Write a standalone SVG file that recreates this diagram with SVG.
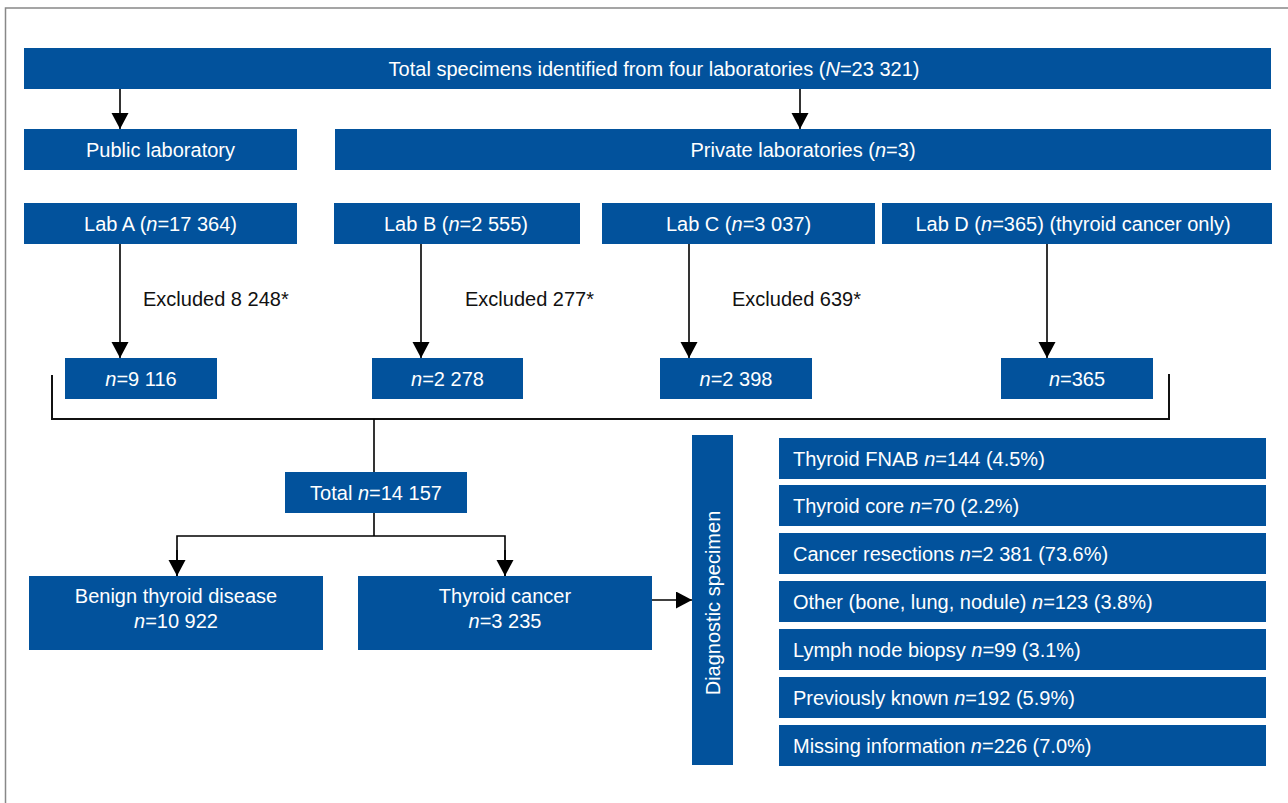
<svg xmlns="http://www.w3.org/2000/svg" width="1288" height="803" viewBox="0 0 1288 803">
<style>
.box{fill:#02529C}
.t{font-family:"Liberation Sans",Arial,sans-serif;font-size:20px;fill:#fff}
.k{font-family:"Liberation Sans",Arial,sans-serif;font-size:20px;fill:#111}
.c{text-anchor:middle}
.i{font-style:italic}
.ln{stroke:#000;stroke-width:1.6;fill:none}
</style>
<defs>
<marker id="ah" markerUnits="userSpaceOnUse" markerWidth="18" markerHeight="18" viewBox="0 0 18 18" refX="16" refY="8.5" orient="auto">
<path d="M0,0 L16,8.5 L0,17 Z" fill="#000"/>
</marker>
</defs>
<rect x="0" y="0" width="1288" height="803" fill="#fff"/>
<path d="M5.5,803 V8 H1288" stroke="#888" stroke-width="1.5" fill="none"/>

<g id="connectors">
<line class="ln" x1="120" y1="89" x2="120" y2="129" marker-end="url(#ah)"/>
<line class="ln" x1="800" y1="89" x2="800" y2="129" marker-end="url(#ah)"/>
<line class="ln" x1="120" y1="244" x2="120" y2="358" marker-end="url(#ah)"/>
<line class="ln" x1="421" y1="244" x2="421" y2="358" marker-end="url(#ah)"/>
<line class="ln" x1="689" y1="244" x2="689" y2="358" marker-end="url(#ah)"/>
<line class="ln" x1="1047" y1="244" x2="1047" y2="358" marker-end="url(#ah)"/>
<path d="M52,375 V419 H1169 V374" stroke="#111" stroke-width="2" fill="none"/>
<line class="ln" x1="374" y1="419" x2="374" y2="472"/>
<line class="ln" x1="374" y1="513" x2="374" y2="536"/>
<path class="ln" d="M177,576 V536 H505 V576"/>
<line class="ln" x1="177" y1="550" x2="177" y2="576" marker-end="url(#ah)"/>
<line class="ln" x1="505" y1="550" x2="505" y2="576" marker-end="url(#ah)"/>
<line class="ln" x1="652" y1="600" x2="692" y2="600" marker-end="url(#ah)"/>
<text class="k" x="143" y="306">Excluded 8 248*</text>
<text class="k" x="465" y="306">Excluded 277*</text>
<text class="k" x="732" y="306">Excluded 639*</text>
</g>

<g id="total">
<rect class="box" x="24" y="48" width="1247" height="41"/>
<text class="t c" x="654" y="75.5">Total specimens identified from four laboratories (<tspan class="i">N</tspan>=23 321)</text>
</g>
<g id="public">
<rect class="box" x="24" y="129" width="273" height="41"/>
<text class="t c" x="160.5" y="156.5">Public laboratory</text>
</g>
<g id="private">
<rect class="box" x="335" y="129" width="936" height="41"/>
<text class="t c" x="803" y="156.5">Private laboratories (<tspan class="i">n</tspan>=3)</text>
</g>
<g id="labA">
<rect class="box" x="24" y="203" width="273" height="41"/>
<text class="t c" x="160.5" y="230.5">Lab A (<tspan class="i">n</tspan>=17 364)</text>
</g>
<g id="labB">
<rect class="box" x="334" y="203" width="246" height="41"/>
<text class="t c" x="456" y="230.5">Lab B (<tspan class="i">n</tspan>=2 555)</text>
</g>
<g id="labC">
<rect class="box" x="602" y="203" width="273" height="41"/>
<text class="t c" x="738.5" y="230.5">Lab C (<tspan class="i">n</tspan>=3 037)</text>
</g>
<g id="labD">
<rect class="box" x="882" y="203" width="390" height="41"/>
<text class="t c" x="1073" y="230.5">Lab D (<tspan class="i">n</tspan>=365) (thyroid cancer only)</text>
</g>
<g id="nA">
<rect class="box" x="65" y="358" width="152" height="41"/>
<text class="t c" x="141" y="385.5"><tspan class="i">n</tspan>=9 116</text>
</g>
<g id="nB">
<rect class="box" x="372" y="358" width="151" height="41"/>
<text class="t c" x="447.5" y="385.5"><tspan class="i">n</tspan>=2 278</text>
</g>
<g id="nC">
<rect class="box" x="660" y="358" width="152" height="41"/>
<text class="t c" x="736" y="385.5"><tspan class="i">n</tspan>=2 398</text>
</g>
<g id="nD">
<rect class="box" x="1001" y="358" width="152" height="41"/>
<text class="t c" x="1077" y="385.5"><tspan class="i">n</tspan>=365</text>
</g>
<g id="totalN">
<rect class="box" x="285" y="472" width="182" height="41"/>
<text class="t c" x="376" y="499.5">Total <tspan class="i">n</tspan>=14 157</text>
</g>
<g id="benign">
<rect class="box" x="29" y="576" width="294" height="74"/>
<text class="t c" x="176" y="603">Benign thyroid disease</text>
<text class="t c" x="176" y="628"><tspan class="i">n</tspan>=10 922</text>
</g>
<g id="cancer">
<rect class="box" x="358" y="576" width="294" height="74"/>
<text class="t c" x="505" y="603">Thyroid cancer</text>
<text class="t c" x="505" y="628"><tspan class="i">n</tspan>=3 235</text>
</g>
<g id="diagnostic">
<rect class="box" x="692" y="435" width="41" height="330"/>
<text class="t c" transform="translate(719.5,603) rotate(-90)" x="0" y="0">Diagnostic specimen</text>
</g>
<g id="fnab">
<rect class="box" x="779" y="438" width="487" height="41"/>
<text class="t" x="793" y="465.5">Thyroid FNAB <tspan class="i">n</tspan>=144 (4.5%)</text>
</g>
<g id="core">
<rect class="box" x="779" y="485" width="487" height="41"/>
<text class="t" x="793" y="512.5">Thyroid core <tspan class="i">n</tspan>=70 (2.2%)</text>
</g>
<g id="resections">
<rect class="box" x="779" y="533" width="487" height="41"/>
<text class="t" x="793" y="560.5">Cancer resections <tspan class="i">n</tspan>=2 381 (73.6%)</text>
</g>
<g id="other">
<rect class="box" x="779" y="581" width="487" height="41"/>
<text class="t" x="793" y="608.5">Other (bone, lung, nodule) <tspan class="i">n</tspan>=123 (3.8%)</text>
</g>
<g id="lymph">
<rect class="box" x="779" y="629" width="487" height="41"/>
<text class="t" x="793" y="656.5">Lymph node biopsy <tspan class="i">n</tspan>=99 (3.1%)</text>
</g>
<g id="known">
<rect class="box" x="779" y="677" width="487" height="41"/>
<text class="t" x="793" y="704.5">Previously known <tspan class="i">n</tspan>=192 (5.9%)</text>
</g>
<g id="missing">
<rect class="box" x="779" y="725" width="487" height="41"/>
<text class="t" x="793" y="752.5">Missing information <tspan class="i">n</tspan>=226 (7.0%)</text>
</g>
</svg>
